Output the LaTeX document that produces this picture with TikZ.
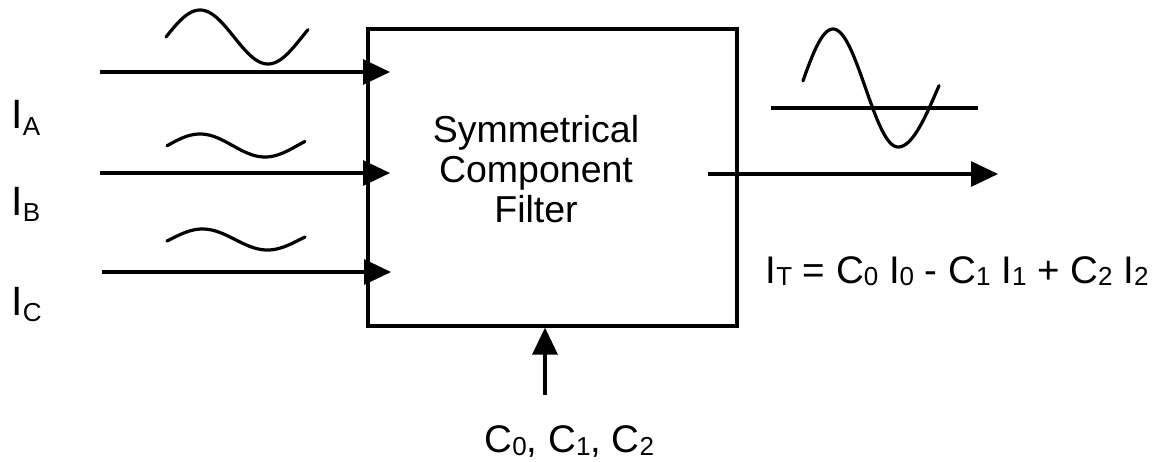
\documentclass[tikz,border=0pt]{standalone}
\usepackage{fontspec}
\setmainfont{Liberation Sans}
\usetikzlibrary{arrows.meta}
\newcommand\lowsub[2][6pt]{\raisebox{-#1}{\fontsize{26}{26}\selectfont #2}}
\begin{document}
\begin{tikzpicture}[x=1pt,y=-1pt,line width=3.2pt,
  arr/.style={-{Triangle[length=27pt,width=25pt]}},
  lbl/.style={inner sep=0pt,anchor=base west,font=\fontsize{41}{41}\selectfont},
  eqn/.style={inner sep=0pt,anchor=base west,font=\fontsize{38.5}{40}\selectfont},
  boxtxt/.style={inner sep=0pt,anchor=base,font=\fontsize{37.5}{40}\selectfont},
  wave/.style={line width=3.2pt,line cap=round,smooth}]
\useasboundingbox (0,0) rectangle (1154,461);
% main box
\node[draw,minimum width=369pt,minimum height=297pt,inner sep=0pt] (filter) at (552.5,177.5) {};
\node[boxtxt] (t1) at (536,142) {Symmetrical};
\node[boxtxt] (t2) at (536,182) {Component};
\node[boxtxt] (t3) at (536,222) {Filter};
% inputs
\coordinate (a0) at (100,72);  \coordinate (a1) at (390,72);
\coordinate (b0) at (100,173); \coordinate (b1) at (390,173);
\coordinate (c0) at (102,272); \coordinate (c1) at (391,272);
\draw[arr] (a0) -- (a1);
\draw[arr] (b0) -- (b1);
\draw[arr] (c0) -- (c1);
\node[lbl] (la) at (10,128) {I\lowsub[7pt]{A}};
\node[lbl] (lb) at (10,215) {I\lowsub[6pt]{B}};
\node[lbl] (lc) at (10,315) {I\lowsub[6pt]{C}};
% input waves
\draw[wave] plot[domain=166:308,samples=60] (\x,{37-27*sin((\x-166)/136*360)});
\draw[wave] plot[domain=167:305,samples=60] (\x,{145.5-11.5*sin((\x-167.5)/130*360)});
\draw[wave] plot[domain=167:305,samples=60] (\x,{239.5-10.5*sin((\x-170)/130*360)});
% output
\coordinate (o0) at (708,174); \coordinate (o1) at (998,174);
\draw[arr] (o0) -- (o1);
\coordinate (h0) at (771,108); \coordinate (h1) at (978,108);
\draw (h0) -- (h1);
\draw[wave] plot[domain=803:898,samples=50] (\x,{88-59*cos((\x-833)/65*180)})
  -- plot[domain=898:939,samples=25] (\x,{147-59*(1-cos((\x-898)/40*90))});
\node[eqn] (eq) at (764,283) {I\lowsub[2pt]{T} = C\lowsub[2pt]{0} I\lowsub[2pt]{0} - C\lowsub[2pt]{1} I\lowsub[2pt]{1} + C\lowsub[2pt]{2} I\lowsub[2pt]{2}};
% coefficients
\coordinate (k0) at (545,395);
\draw[arr] (k0) -- (k0 |- filter.south);
\node[eqn] (coef) at (483,452) {C\lowsub[3pt]{0}, C\lowsub[3pt]{1}, C\lowsub[3pt]{2}};
\end{tikzpicture}
\end{document}
